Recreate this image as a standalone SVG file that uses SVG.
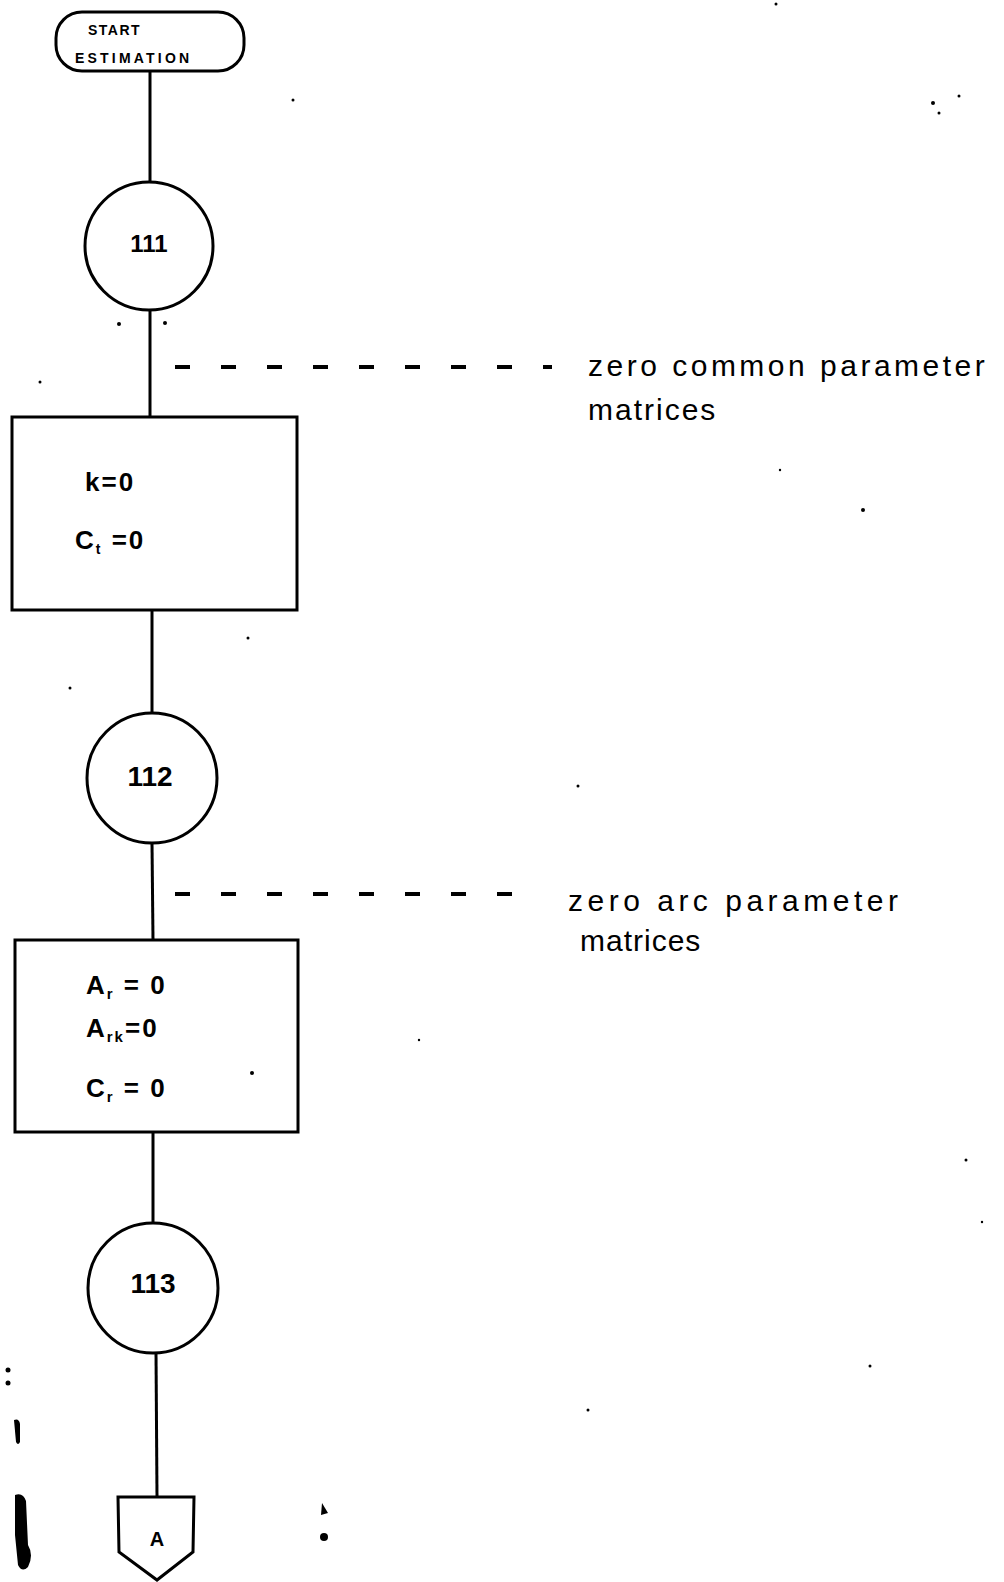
<svg xmlns="http://www.w3.org/2000/svg" width="1004" height="1582" viewBox="0 0 1004 1582">
<style>
.s{fill:none;stroke:#000;stroke-width:3}
.n{fill:#fff;stroke:#000;stroke-width:3}
.d{fill:none;stroke:#000;stroke-width:4;stroke-dasharray:15 31}
.t{font-family:"Liberation Sans",Arial,sans-serif;font-weight:bold;fill:#000}
.b{font-family:"Liberation Sans",Arial,sans-serif;font-weight:bold;fill:#000;font-size:26px;letter-spacing:2px}
.h{font-family:"Liberation Sans",Arial,sans-serif;fill:#000;font-size:30px}
.spk{fill:#000}
</style>
<rect width="1004" height="1582" fill="#fff"/>
<g id="connectors">
<line class="s" x1="150" y1="71" x2="150" y2="182"/>
<line class="s" x1="150" y1="310" x2="150" y2="418"/>
<line class="s" x1="152" y1="610" x2="152" y2="713"/>
<line class="s" x1="152" y1="843" x2="153" y2="940"/>
<line class="s" x1="153" y1="1132" x2="153" y2="1224"/>
<line class="s" x1="156" y1="1352" x2="157" y2="1497"/>
<line class="d" x1="175" y1="367" x2="552" y2="367"/>
<line class="d" x1="175" y1="894" x2="530" y2="894"/>
</g>
<g id="start">
<rect class="n" x="56" y="12" width="188" height="59" rx="26"/>
<text class="t" x="88" y="35" font-size="14" letter-spacing="1.5">START</text>
<text class="t" x="75" y="63" font-size="14" letter-spacing="3.2">ESTIMATION</text>
</g>
<g id="c111">
<circle class="n" cx="149" cy="246" r="64"/>
<text class="t" x="149" y="246" font-size="24" text-anchor="middle" dominant-baseline="middle">111</text>
</g>
<g id="box1">
<rect class="n" x="12" y="417" width="285" height="193"/>
<text class="b" x="85" y="491">k=0</text>
<text class="b" x="75" y="549">C<tspan font-size="14" dy="5">t</tspan><tspan dy="-5"> =0</tspan></text>
</g>
<g id="c112">
<circle class="n" cx="152" cy="778" r="65"/>
<text class="t" x="150" y="779" font-size="28" text-anchor="middle" dominant-baseline="middle">112</text>
</g>
<g id="box2">
<rect class="n" x="15" y="940" width="283" height="192"/>
<text class="b" x="86" y="994">A<tspan font-size="15" dy="5">r</tspan><tspan dy="-5"> = 0</tspan></text>
<text class="b" x="86" y="1037">A<tspan font-size="15" dy="5">rk</tspan><tspan dy="-5">=0</tspan></text>
<text class="b" x="86" y="1097">C<tspan font-size="15" dy="5">r</tspan><tspan dy="-5"> = 0</tspan></text>
</g>
<g id="c113">
<circle class="n" cx="153" cy="1288" r="65"/>
<text class="t" x="153" y="1286" font-size="28" text-anchor="middle" dominant-baseline="middle">113</text>
</g>
<g id="offpageA">
<polygon class="n" points="118,1497 194,1497 193,1552 157,1580 119,1552"/>
<text class="t" x="157" y="1546" font-size="20" font-weight="normal" text-anchor="middle">A</text>
</g>
<g id="note1">
<text class="h" x="588" y="376" letter-spacing="3.5">zero common parameter</text>
<text class="h" x="588" y="420" letter-spacing="2">matrices</text>
</g>
<g id="note2">
<text class="h" x="568" y="911" letter-spacing="4.5">zero arc parameter</text>
<text class="h" x="580" y="951" letter-spacing="1">matrices</text>
</g>
<g id="specks">
<circle class="spk" cx="119" cy="324" r="2"/>
<circle class="spk" cx="165" cy="323" r="2"/>
<circle class="spk" cx="293" cy="100" r="1.5"/>
<circle class="spk" cx="776" cy="4" r="1.5"/>
<circle class="spk" cx="933" cy="103" r="2"/>
<circle class="spk" cx="959" cy="96" r="1.5"/>
<circle class="spk" cx="939" cy="113" r="1.5"/>
<circle class="spk" cx="40" cy="382" r="1.5"/>
<circle class="spk" cx="863" cy="510" r="2"/>
<circle class="spk" cx="780" cy="470" r="1.2"/>
<circle class="spk" cx="248" cy="638" r="1.5"/>
<circle class="spk" cx="70" cy="688" r="1.5"/>
<circle class="spk" cx="578" cy="786" r="1.5"/>
<circle class="spk" cx="252" cy="1073" r="2"/>
<circle class="spk" cx="419" cy="1040" r="1.2"/>
<circle class="spk" cx="966" cy="1160" r="1.5"/>
<circle class="spk" cx="982" cy="1222" r="1.2"/>
<circle class="spk" cx="870" cy="1366" r="1.5"/>
<circle class="spk" cx="588" cy="1410" r="1.5"/>
<circle class="spk" cx="8" cy="1370" r="2.5"/>
<circle class="spk" cx="8" cy="1383" r="2.5"/>
<path class="spk" d="M14,1420 q5,-2 6,4 l0,18 q-2,4 -4,0 z"/>
<path class="spk" d="M15,1495 q8,-3 11,6 l2,44 q6,10 0,22 q-6,6 -10,-2 l-3,-30 z"/>
<path class="spk" d="M322,1503 l6,10 l-7,2 z"/>
<circle class="spk" cx="324" cy="1537" r="4"/>
</g>
</svg>
